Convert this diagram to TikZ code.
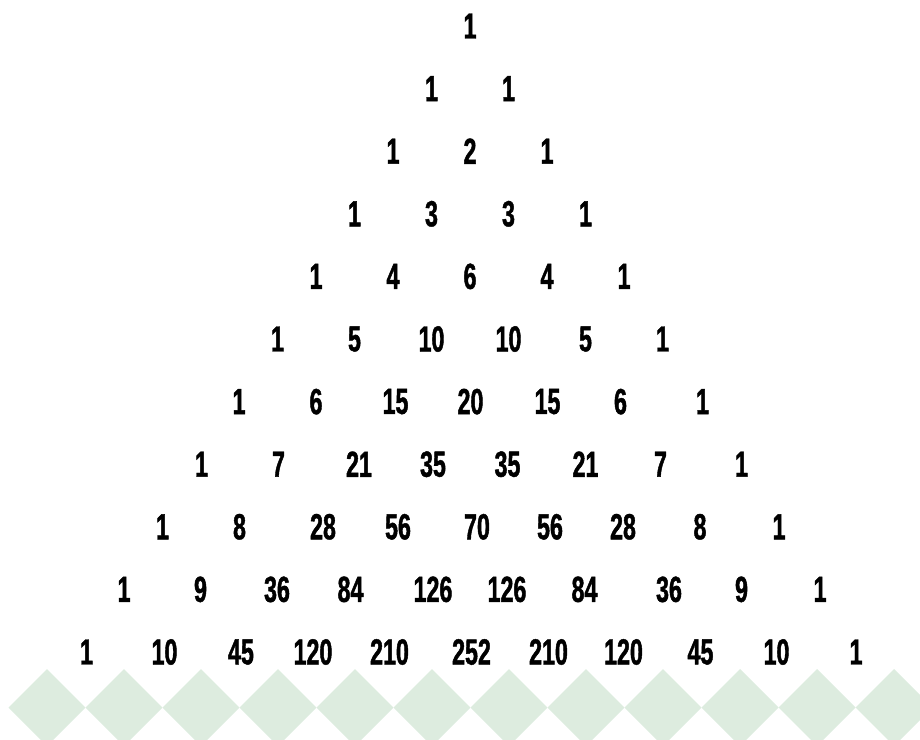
\documentclass[tikz,border=0pt]{standalone}
\usepackage{fontspec}
\newfontfamily\digfont[FakeStretch=0.64,FakeBold=1.2]{Liberation Sans Bold}
\definecolor{diamondgreen}{HTML}{DDECDF}
\tikzset{
  num/.style={inner sep=0pt, font=\digfont\fontsize{36.3}{36.3}\selectfont, text=black},
  tile/.style={fill=diamondgreen, draw=none}
}
\begin{document}
\begin{tikzpicture}[x=1pt,y=-1pt]
\useasboundingbox (0,0) rectangle (920,739);
\foreach \i in {0,...,11} {
  \fill[tile] ({47+77*\i},669) -- ({47+77*\i+38.5},707.5) -- ({47+77*\i},746) -- ({47+77*\i-38.5},707.5) -- cycle;
}
\foreach \row [count=\n from 0] in {
  {1/470},
  {1/431.5,1/508.5},
  {1/393,2/470,1/547},
  {1/354.5,3/431.5,3/508.5,1/585.5},
  {1/316,4/393,6/470,4/547,1/624},
  {1/277.5,5/354.5,10/431.5,10/508.5,5/585.5,1/662.5},
  {1/239,6/316,15/395.5,20/470.5,15/547.5,6/620.5,1/702.5},
  {1/201.5,7/278.5,21/359,35/433,35/507.5,21/585.5,7/660.5,1/741.5},
  {1/162.5,8/239.5,28/323,56/398,70/477,56/550,28/623,8/700,1/779},
  {1/124,9/200.5,36/277,84/350.5,126/433,126/507,84/584.5,36/669,9/741.5,1/820},
  {1/86.5,10/164.5,45/241,120/313,210/389.5,252/471.5,210/548.5,120/623.5,45/700.5,10/776.5,1/856}} {
  \foreach \v/\xx [count=\k from 0] in \row {
    \node[num] (r\n-\k) at (\xx,{26+\n*62.6}) {\v};
  }
}
\end{tikzpicture}
\end{document}
